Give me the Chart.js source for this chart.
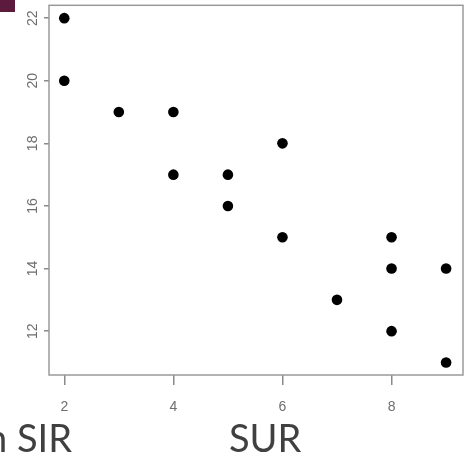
<!DOCTYPE html>
<html>
<head>
<meta charset="utf-8">
<script src="https://cdn.jsdelivr.net/npm/chart.js@4"></script>
<style>
  html, body { margin: 0; padding: 0; background: #fff; }
  #wrap { position: relative; width: 474px; height: 455px; overflow: hidden; }
  #myChart { position: absolute; left: 0; top: 0; }
  .cap { position: absolute; font-family: Lato, "Open Sans", sans-serif; font-size: 38px; color: #404040; line-height: 1; }
  #corner { position: absolute; left: 0; top: 0; width: 15px; height: 12px; background: #5c1a3c; }
</style>
</head>
<body>
<div id="wrap">
  <canvas id="myChart" width="474" height="455"></canvas>
  <div id="corner"></div>
  <div class="cap" style="left:-14px; top:418px;">n SIR</div>
  <div class="cap" style="left:229px; top:418px;">SUR</div>
</div>
<script>
const sur = [2, 2, 3, 4, 4, 5, 5, 6, 6, 7, 8, 8, 8, 9, 9];
const sir = [22, 20, 19, 19, 17, 17, 16, 18, 15, 13, 15, 14, 12, 14, 11];
const xTicks = [2, 4, 6, 8];
const yTicks = [12, 14, 16, 18, 20, 22];

const points = sur.map((v, i) => ({ x: v, y: sir[i] }));

// grey frame round the plot, like R's box()
const boxPlugin = {
  id: "box",
  afterDraw(chart) {
    const a = chart.chartArea;
    const c = chart.ctx;
    c.save();
    c.strokeStyle = "#9a9a9a";
    c.lineWidth = 1.5;
    c.strokeRect(a.left, a.top, a.right - a.left, a.bottom - a.top);
    c.restore();
  },
};

const ctx = document.getElementById("myChart");
const myChart = new Chart(ctx, {
  type: "scatter",
  data: {
    datasets: [
      {
        data: points,
        backgroundColor: "#000",
        borderWidth: 0,
        pointRadius: 5.3,
        pointHoverRadius: 5.3,
      },
    ],
  },
  options: {
    responsive: false,
    animation: false,
    layout: { padding: { top: 5, right: 11, left: 0, bottom: 0 } },
    plugins: { legend: { display: false }, tooltip: { enabled: false } },
    scales: {
      x: {
        type: "linear",
        min: 1.72,
        max: 9.31,
        afterBuildTicks: (s) => { s.ticks = xTicks.map((v) => ({ value: v })); },
        afterFit: (s) => { s.height = 80; s.paddingLeft = 0; s.paddingRight = 0; },
        grid: { drawOnChartArea: false, drawTicks: true, tickLength: 10, color: "#8a8a8a", lineWidth: 1.5 },
        border: { display: false },
        ticks: { color: "#6e6e6e", padding: 14, font: { family: "Liberation Sans", size: 14 } },
      },
      y: {
        type: "linear",
        min: 10.6,
        max: 22.41,
        afterBuildTicks: (s) => { s.ticks = yTicks.map((v) => ({ value: v })); },
        afterFit: (s) => { s.width = 49; s.paddingTop = 0; s.paddingBottom = 0; },
        grid: { drawOnChartArea: false, drawTicks: true, tickLength: 5, color: "#8a8a8a", lineWidth: 1.5 },
        border: { display: false },
        ticks: { color: "#6e6e6e", padding: 3, crossAlign: "center", minRotation: 90, maxRotation: 90, font: { family: "Liberation Sans", size: 14 } },
      },
    },
  },
  plugins: [boxPlugin],
});
</script>
</body>
</html>
